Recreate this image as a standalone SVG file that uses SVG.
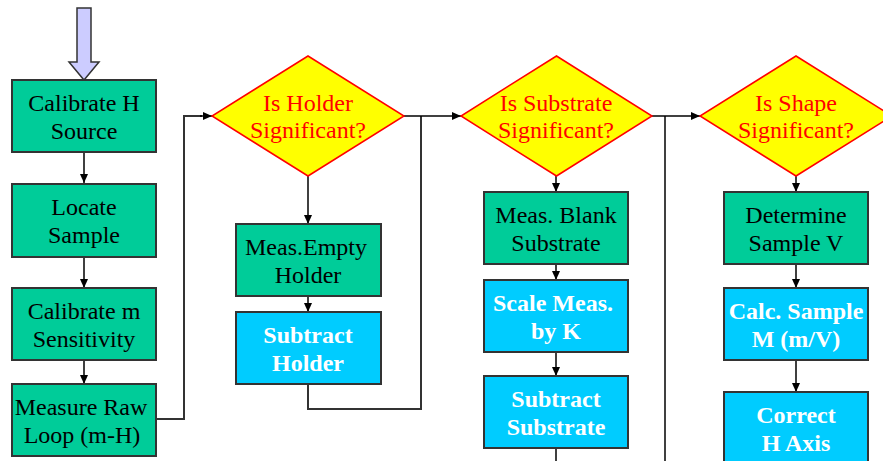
<svg xmlns="http://www.w3.org/2000/svg" width="883" height="461" viewBox="0 0 883 461">
<defs>
<marker id="ah" markerUnits="userSpaceOnUse" markerWidth="10" markerHeight="8" refX="9" refY="4" orient="auto">
<path d="M0,0 L9,4 L0,8 Z" fill="#000"/>
</marker>
<style>
.g{fill:#00cc99;stroke:#333;stroke-width:2}
.c{fill:#00ccff;stroke:#333;stroke-width:2}
.d{fill:#ffff00;stroke:#ff0000;stroke-width:1.5}
text{font-family:'Liberation Serif','DejaVu Serif',serif;font-size:24px;text-anchor:middle}
.t{fill:#000}
.tb{font-weight:bold;fill:#fff}
.tr{fill:#ff0000}
.l{fill:none;stroke:#000;stroke-width:1.5}
.la{fill:none;stroke:#000;stroke-width:1.5;marker-end:url(#ah)}
.lg{fill:none;stroke:#333;stroke-width:2}
</style>
</defs>
<rect width="883" height="461" fill="#fff"/>
<polygon points="77,8 91,8 91,62 99,62 84,80 69,62 77,62" fill="#ccccff" stroke="#333" stroke-width="1.5"/>
<g id="connectors">
<line class="la" x1="84" y1="152" x2="84" y2="183"/>
<line class="la" x1="84" y1="257" x2="84" y2="288"/>
<line class="la" x1="84" y1="360" x2="84" y2="384"/>
<polyline class="lg" points="156,419 184,419 184,116 202,116"/>
<line class="la" x1="200" y1="116" x2="212" y2="116"/>
<line class="la" x1="308" y1="176" x2="308" y2="224"/>
<line class="la" x1="308" y1="296" x2="308" y2="312"/>
<polyline class="lg" points="308,384 308,409 421,409 421,116"/>
<line class="la" x1="404" y1="116" x2="461" y2="116"/>
<line class="la" x1="556" y1="176" x2="556" y2="192"/>
<line class="la" x1="556" y1="264" x2="556" y2="280"/>
<line class="la" x1="556" y1="352" x2="556" y2="376"/>
<line class="l" x1="556" y1="448" x2="556" y2="461"/>
<line class="la" x1="652" y1="116" x2="700" y2="116"/>
<line class="l" x1="665" y1="116" x2="665" y2="461"/>
<line class="la" x1="796" y1="176" x2="796" y2="192"/>
<line class="la" x1="796" y1="264" x2="796" y2="288"/>
<line class="la" x1="796" y1="360" x2="796" y2="392"/>
</g>
<g id="n1"><rect class="g" x="12" y="80" width="144" height="72"/><text class="t" x="84" y="111">Calibrate H</text><text class="t" x="84" y="139">Source</text></g>
<g id="n2"><rect class="g" x="12" y="184" width="144" height="73"/><text class="t" x="84" y="215">Locate</text><text class="t" x="84" y="243">Sample</text></g>
<g id="n3"><rect class="g" x="12" y="288" width="144" height="72"/><text class="t" x="84" y="319">Calibrate m</text><text class="t" x="84" y="347">Sensitivity</text></g>
<g id="n4"><rect class="g" x="12" y="384" width="144" height="72"/><text class="t" x="81" y="415">Measure Raw</text><text class="t" x="82" y="443">Loop (m-H)</text></g>
<g id="d1"><polygon class="d" points="308,56 404,116 308,176 212,116"/><text class="tr" x="308" y="111">Is Holder</text><text class="tr" x="308" y="138">Significant?</text></g>
<g id="n5"><rect class="g" x="236" y="224" width="145" height="72"/><text class="t" x="306" y="255">Meas.Empty</text><text class="t" x="308" y="283">Holder</text></g>
<g id="n6"><rect class="c" x="236" y="312" width="145" height="72"/><text class="tb" x="308" y="343">Subtract</text><text class="tb" x="308" y="371">Holder</text></g>
<g id="d2"><polygon class="d" points="556.5,56 652,116 556.5,176 461,116"/><text class="tr" x="556" y="111">Is Substrate</text><text class="tr" x="556" y="138">Significant?</text></g>
<g id="n7"><rect class="g" x="484" y="192" width="144" height="72"/><text class="t" x="556" y="223">Meas. Blank</text><text class="t" x="556" y="251">Substrate</text></g>
<g id="n8"><rect class="c" x="484" y="280" width="144" height="72"/><text class="tb" x="553" y="311">Scale Meas.</text><text class="tb" x="556" y="339">by K</text></g>
<g id="n9"><rect class="c" x="484" y="376" width="144" height="72"/><text class="tb" x="556" y="407">Subtract</text><text class="tb" x="556" y="435">Substrate</text></g>
<g id="d3"><polygon class="d" points="796,56 892,116 796,176 700,116"/><text class="tr" x="796" y="111">Is Shape</text><text class="tr" x="796" y="138">Significant?</text></g>
<g id="n10"><rect class="g" x="724" y="192" width="144" height="72"/><text class="t" x="796" y="223">Determine</text><text class="t" x="796" y="251">Sample V</text></g>
<g id="n11"><rect class="c" x="724" y="288" width="144" height="72"/><text class="tb" x="796" y="319">Calc. Sample</text><text class="tb" x="796" y="347">M (m/V)</text></g>
<g id="n12"><rect class="c" x="724" y="392" width="144" height="80"/><text class="tb" x="796" y="423">Correct</text><text class="tb" x="796" y="451">H Axis</text></g>
</svg>
